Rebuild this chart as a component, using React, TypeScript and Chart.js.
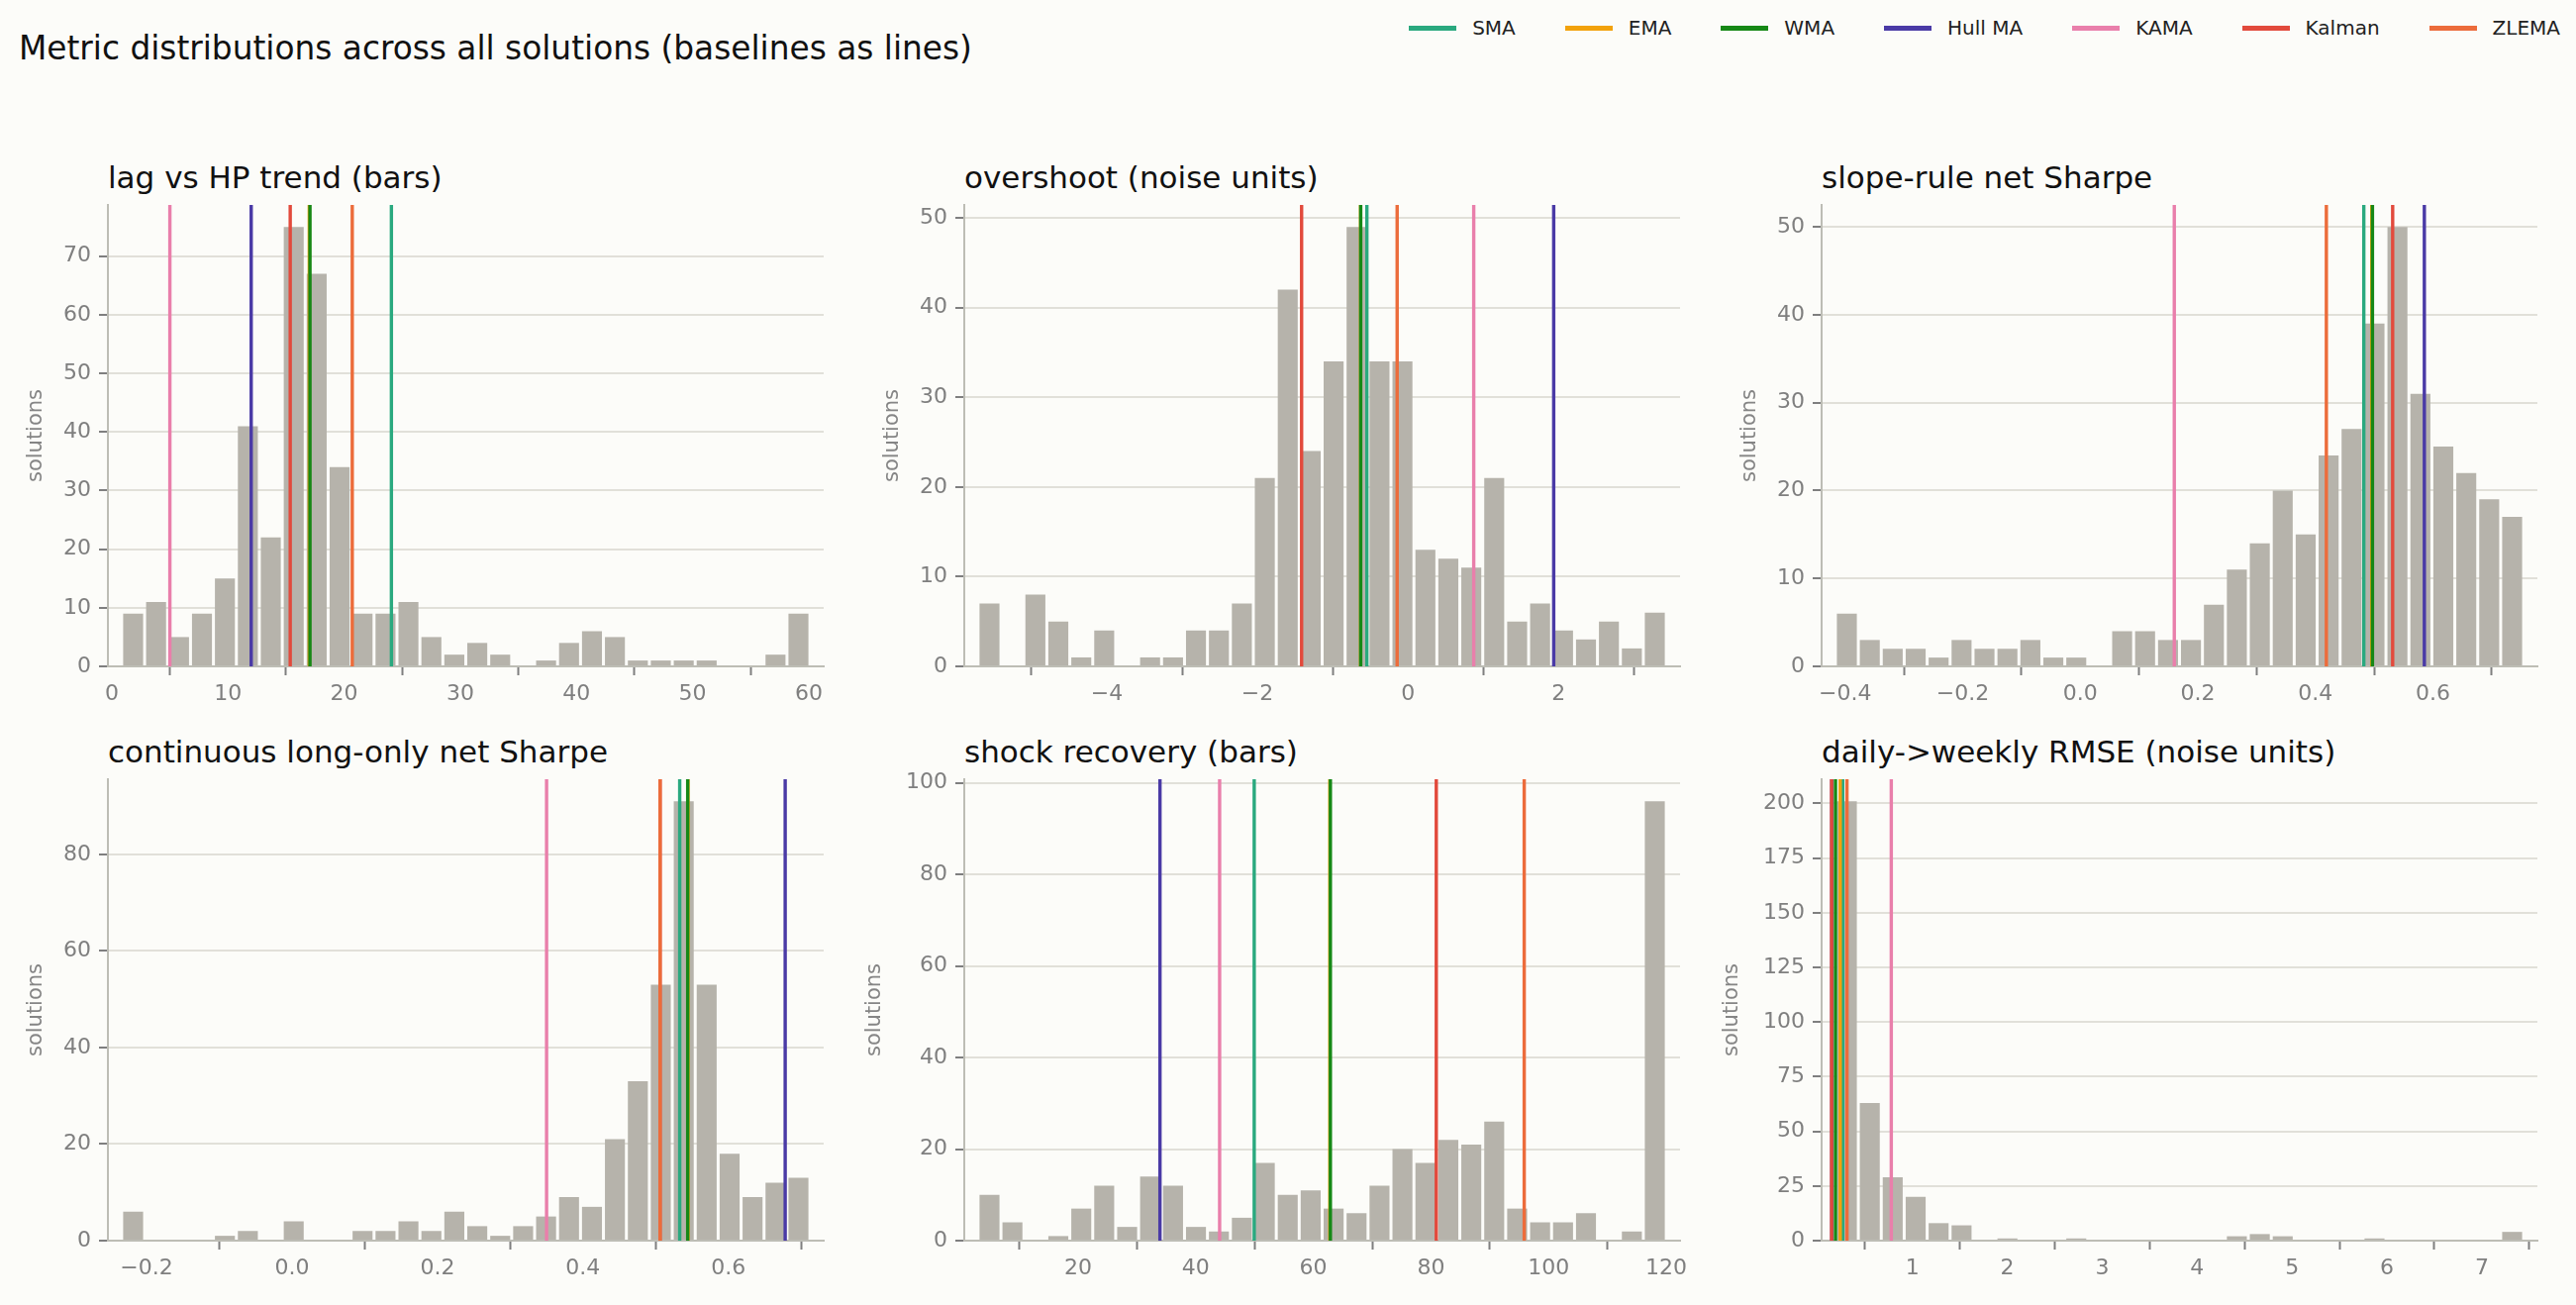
import React, { useEffect, useRef } from 'react';
import { Chart, registerables } from 'chart.js';

Chart.register(...registerables);

const FONT = '"DejaVu Sans", "Noto Sans", sans-serif';
Chart.defaults.font.family = FONT;

// ---- data ----
const METHODS = ['SMA', 'EMA', 'WMA', 'Hull MA', 'KAMA', 'Kalman', 'ZLEMA'];
const METHOD_COLORS = ['#2aa97f', '#f2a20c', '#168816', '#4a3aa6', '#e97fab', '#e24a3c', '#ec6c3b'];

const LAG_TITLE = 'lag vs HP trend (bars)';
const LAG_BINS = [0.85, 60.1];
const LAG_COUNTS = [9, 11, 5, 9, 15, 41, 22, 75, 67, 34, 9, 9, 11, 5, 2, 4, 2, 0, 1, 4, 6, 5, 1, 1, 1, 1, 0, 0, 2, 9];
const LAG_BASELINES = [24.07, 17.0, 17.06, 12.0, 5.0, 15.36, 20.7];
const LAG_TICKS = [10, 0, 10];

const OVER_TITLE = 'overshoot (noise units)';
const OVER_BINS = [-5.71, 3.43];
const OVER_COUNTS = [7, 0, 8, 5, 1, 4, 0, 1, 1, 4, 4, 7, 21, 42, 24, 34, 49, 34, 34, 13, 12, 11, 21, 5, 7, 4, 3, 5, 2, 6];
const OVER_BASELINES = [-0.546, -0.63, -0.628, 1.935, 0.873, -1.413, -0.144];
const OVER_TICKS = [2, 0, 10];

const SLOPE_TITLE = 'slope-rule net Sharpe';
const SLOPE_BINS = [-0.4166, 0.7543];
const SLOPE_COUNTS = [6, 3, 2, 2, 1, 3, 2, 2, 3, 1, 1, 0, 4, 4, 3, 3, 7, 11, 14, 20, 15, 24, 27, 39, 50, 31, 25, 22, 19, 17];
const SLOPE_BASELINES = [0.4824, 0.496, 0.4971, 0.5854, 0.16, 0.5315, 0.4187];
const SLOPE_TICKS = [0.2, 1, 10];

const CONT_TITLE = 'continuous long-only net Sharpe';
const CONT_BINS = [-0.2341, 0.712];
const CONT_COUNTS = [6, 0, 0, 0, 1, 2, 0, 4, 0, 0, 2, 2, 4, 2, 6, 3, 1, 3, 5, 9, 7, 21, 33, 53, 91, 53, 18, 9, 12, 13];
const CONT_BASELINES = [0.533, 0.5445, 0.544, 0.678, 0.35, 0.506, 0.506];
const CONT_TICKS = [0.2, 1, 20];

const SHOCK_TITLE = 'shock recovery (bars)';
const SHOCK_BINS = [3, 120];
const SHOCK_COUNTS = [10, 4, 0, 1, 7, 12, 3, 14, 12, 3, 2, 5, 17, 10, 11, 7, 6, 12, 20, 17, 22, 21, 26, 7, 4, 4, 6, 0, 2, 96];
const SHOCK_BASELINES = [49.95, 62.8, 62.9, 33.93, 44.07, 80.9, 95.85];
const SHOCK_TICKS = [20, 0, 20];

const RMSE_TITLE = 'daily->weekly RMSE (noise units)';
const RMSE_BINS = [0.188, 7.44];
const RMSE_COUNTS = [201, 63, 29, 20, 8, 7, 0, 1, 0, 0, 1, 0, 0, 0, 0, 0, 0, 2, 3, 2, 0, 0, 0, 1, 0, 0, 0, 0, 0, 4];
const RMSE_BASELINES = [0.265, 0.239, 0.189, 0.15, 0.777, 0.148, 0.31];
const RMSE_TICKS = [1, 0, 25];

const PANELS = [
  { title: LAG_TITLE, bins: LAG_BINS, counts: LAG_COUNTS, baselines: LAG_BASELINES, ticks: LAG_TICKS },
  { title: OVER_TITLE, bins: OVER_BINS, counts: OVER_COUNTS, baselines: OVER_BASELINES, ticks: OVER_TICKS },
  { title: SLOPE_TITLE, bins: SLOPE_BINS, counts: SLOPE_COUNTS, baselines: SLOPE_BASELINES, ticks: SLOPE_TICKS },
  { title: CONT_TITLE, bins: CONT_BINS, counts: CONT_COUNTS, baselines: CONT_BASELINES, ticks: CONT_TICKS },
  { title: SHOCK_TITLE, bins: SHOCK_BINS, counts: SHOCK_COUNTS, baselines: SHOCK_BASELINES, ticks: SHOCK_TICKS },
  { title: RMSE_TITLE, bins: RMSE_BINS, counts: RMSE_COUNTS, baselines: RMSE_BASELINES, ticks: RMSE_TICKS },
];

// ---- layout ----
const COL_LEFT = [109, 974, 1840];
const ROW_TOP = [207, 787];
const AXES_W = 723;
const AXES_H = 466;
const X_AXIS_H = 60;
const PAD_TOP = 30;
const PAD_RIGHT = 24;

const BAR_COLOR = '#b6b3ab';
const GRID_COLOR = '#e1e0d9';
const SPINE_COLOR = '#bdbdb5';
const TICK_COLOR = '#7f7f7f';

const fmt = (d: number) => (v: any) => {
  let s = Number(v).toFixed(d);
  if (parseFloat(s) === 0) s = (0).toFixed(d);
  return s.replace('-', '\u2212');
};

function Panel({ p, left, top }: { p: any; left: number; top: number }) {
  const ref = useRef<HTMLCanvasElement | null>(null);
  const yTopTick = Math.floor((Math.max(...p.counts) * 1.05) / p.ticks[2]) * p.ticks[2];
  const yAxisW = yTopTick >= 100 ? 103 : 85;
  useEffect(() => {
    if (!ref.current) return;
    const [lo, hi] = p.bins;
    const n = p.counts.length;
    const w = (hi - lo) / n;
    const pad = 0.02 * (hi - lo);
    const ymax = Math.max(...p.counts) * 1.05;
    const [xStep, dec, yStep] = p.ticks;
    const bars = p.counts.map((c: number, i: number) => ({ x: lo + (i + 0.5) * w, y: c }));
    const lines = p.baselines.map((v: number, j: number) => ({
      type: 'line',
      label: METHODS[j],
      data: [{ x: v, y: 0 }, { x: v, y: ymax }],
      borderColor: METHOD_COLORS[j],
      backgroundColor: METHOD_COLORS[j],
      borderWidth: 3.4,
      pointRadius: 0,
      fill: false,
      tension: 0,
      order: 10 - j,
    }));
    const chart = new Chart(ref.current, {
      type: 'bar',
      data: {
        datasets: [
          {
            type: 'bar',
            label: 'solutions',
            data: bars,
            backgroundColor: BAR_COLOR,
            borderWidth: 0,
            barPercentage: 0.87,
            categoryPercentage: 1,
            order: 100,
          } as any,
          ...lines,
        ],
      },
      options: {
        responsive: false,
        animation: false,
        devicePixelRatio: 1,
        layout: { padding: { top: PAD_TOP, right: PAD_RIGHT, left: 0, bottom: 0 } },
        plugins: { legend: { display: false }, tooltip: { enabled: false }, title: { display: false } },
        scales: {
          x: {
            type: 'linear',
            min: lo - pad,
            max: hi + pad,
            offset: false,
            grid: { drawOnChartArea: false, drawTicks: true, tickLength: 9, tickColor: TICK_COLOR, tickWidth: 2 },
            border: { display: true, color: SPINE_COLOR, width: 2 },
            ticks: {
              stepSize: xStep,
              includeBounds: false,
              autoSkip: false,
              maxRotation: 0,
              color: TICK_COLOR,
              font: { family: FONT, size: 22 },
              padding: 6,
              callback: fmt(dec),
            },
            afterFit: (a: any) => { a.height = X_AXIS_H; },
          },
          y: {
            min: 0,
            max: ymax,
            grid: { color: GRID_COLOR, lineWidth: 2, drawTicks: true, tickLength: 9, tickColor: TICK_COLOR, tickWidth: 2 },
            border: { display: true, color: SPINE_COLOR, width: 2 },
            ticks: {
              stepSize: yStep,
              includeBounds: false,
              autoSkip: false,
              color: TICK_COLOR,
              font: { family: FONT, size: 22 },
              padding: 8,
              callback: fmt(0),
            },
            title: { display: true, text: 'solutions', color: '#858585', font: { family: FONT, size: 21 }, padding: { top: 0, bottom: 0 } },
            afterFit: (a: any) => { a.width = yAxisW; },
          },
        },
      } as any,
    });
    return () => chart.destroy();
  }, [p]);
  const cw = yAxisW + AXES_W + PAD_RIGHT;
  const ch = PAD_TOP + AXES_H + X_AXIS_H;
  return (
    <>
      <div
        style={{
          position: 'absolute',
          left: left,
          top: top - 43,
          fontSize: 31,
          lineHeight: '31px',
          color: '#111',
          whiteSpace: 'nowrap',
        }}
      >
        {p.title}
      </div>
      <canvas
        ref={ref}
        width={cw}
        height={ch}
        style={{ position: 'absolute', left: left - yAxisW, top: top - PAD_TOP, width: cw, height: ch }}
      />
    </>
  );
}

export default function App() {
  useEffect(() => {
    document.body.style.margin = '0';
    document.body.style.background = '#fcfcf9';
  }, []);
  return (
    <div
      style={{
        position: 'absolute',
        left: 0,
        top: 0,
        width: 2602,
        height: 1318,
        background: '#fcfcf9',
        fontFamily: FONT,
        overflow: 'hidden',
      }}
    >
      <div style={{ position: 'absolute', left: 19, top: 33, fontSize: 32.8, lineHeight: '33px', color: '#111', whiteSpace: 'nowrap' }}>
        Metric distributions across all solutions (baselines as lines)
      </div>
      <div
        style={{
          position: 'absolute',
          right: 16,
          top: 16,
          height: 24,
          display: 'flex',
          alignItems: 'center',
          gap: 50,
          fontSize: 20,
          color: '#222',
          whiteSpace: 'nowrap',
        }}
      >
        {METHODS.map((m, j) => (
          <div key={m} style={{ display: 'flex', alignItems: 'center' }}>
            <div style={{ width: 48, height: 5, background: METHOD_COLORS[j], marginRight: 16 }} />
            <span>{m}</span>
          </div>
        ))}
      </div>
      {PANELS.map((p, i) => (
        <Panel key={i} p={p} left={COL_LEFT[i % 3]} top={ROW_TOP[Math.floor(i / 3)]} />
      ))}
    </div>
  );
}
